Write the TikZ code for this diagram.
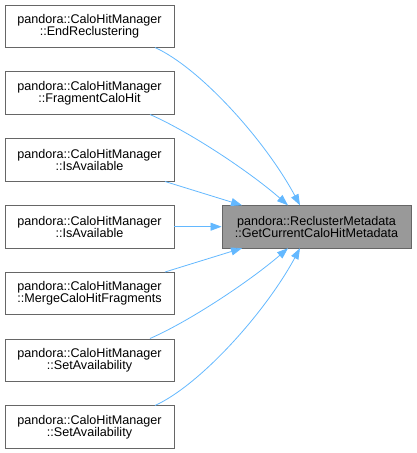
\documentclass[tikz,border=0pt]{standalone}
\usepackage{fontspec}
\setmainfont{Liberation Sans}
\usetikzlibrary{arrows.meta}
\definecolor{edgeblue}{HTML}{63B8FF}
\definecolor{boxborder}{HTML}{666666}
\definecolor{boxfill}{HTML}{999999}
\begin{document}
\begin{tikzpicture}[x=1pt,y=-1pt,
  fn/.style={draw=boxborder,line width=0.9pt,fill=white,minimum width=169pt,minimum height=42.5pt,inner sep=0pt,align=center,font=\fontsize{12.6}{12.2}\selectfont},
  tn/.style={fn,fill=boxfill,minimum width=189pt},
  edge/.style={draw=edgeblue,line width=0.8pt,-{Triangle[length=11pt,width=8pt]}}]
\useasboundingbox (0,0) rectangle (416,453);
\node[fn] (a1) at (89.5,26.3) {pandora::CaloHitManager\\::EndReclustering};
\node[fn] (a2) at (89.5,93.1) {pandora::CaloHitManager\\::FragmentCaloHit};
\node[fn] (a3) at (89.5,159.9) {pandora::CaloHitManager\\::IsAvailable};
\node[fn] (a4) at (89.5,226.7) {pandora::CaloHitManager\\::IsAvailable};
\node[fn] (a5) at (89.5,293.5) {pandora::CaloHitManager\\::MergeCaloHitFragments};
\node[fn] (a6) at (89.5,360.3) {pandora::CaloHitManager\\::SetAvailability};
\node[fn] (a7) at (89.5,427.1) {pandora::CaloHitManager\\::SetAvailability};
\node[tn] (t) at (316.5,226.7) {pandora::ReclusterMetadata\\::GetCurrentCaloHitMetadata};
\coordinate (s1) at (155,47.5);
\coordinate (s2) at (150,114.5);
\coordinate (s3) at (165,181.5);
\coordinate (s5) at (165,272);
\coordinate (s6) at (150,338.5);
\coordinate (s7) at (155,405.5);
\coordinate (e1) at (300,205.3);
\coordinate (e2) at (288,205.3);
\coordinate (e3) at (242,205.3);
\coordinate (e5) at (242,248.2);
\coordinate (e6) at (288,248.2);
\coordinate (e7) at (300,248.2);
\draw[edge] (s1) .. controls (200,68) and (265,140) .. (e1);
\draw[edge] (s2) .. controls (190,132) and (250,172) .. (e2);
\draw[edge] (s3) -- (e3);
\draw[edge] (a4.east) -- (t.west);
\draw[edge] (s5) -- (e5);
\draw[edge] (s6) .. controls (190,321) and (250,281) .. (e6);
\draw[edge] (s7) .. controls (200,385) and (265,313) .. (e7);
\end{tikzpicture}
\end{document}
